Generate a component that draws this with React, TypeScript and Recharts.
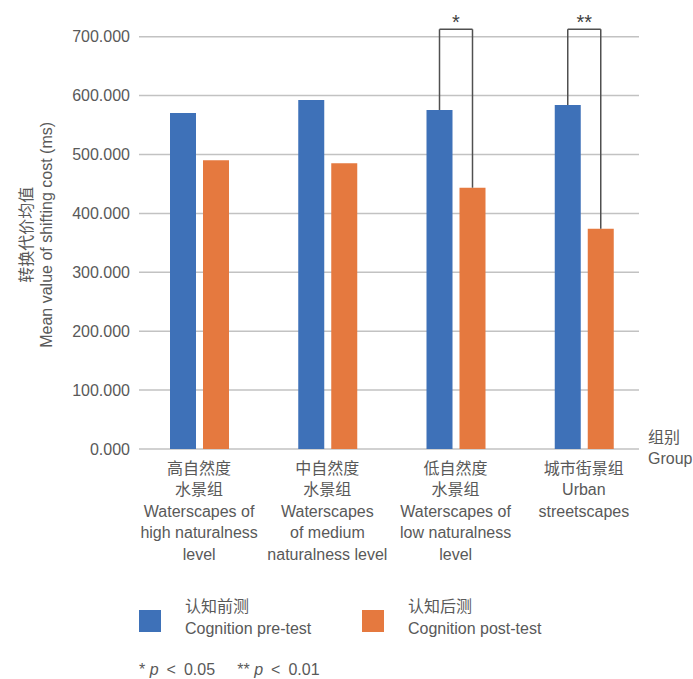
import React from 'react'
import { BarChart, Bar, XAxis, YAxis, CartesianGrid, Legend, LabelList } from 'recharts'

const categories = ['高自然度水景组', '中自然度水景组', '低自然度水景组', '城市街景组']
const categoryLines = [
  ['高自然度', '水景组', 'Waterscapes of', 'high naturalness', 'level'],
  ['中自然度', '水景组', 'Waterscapes', 'of medium', 'naturalness level'],
  ['低自然度', '水景组', 'Waterscapes of', 'low naturalness', 'level'],
  ['城市街景组', 'Urban', 'streetscapes'],
]
const preTest = [570.5, 592.7, 575.6, 584.0]
const postTest = [490.3, 485.1, 443.6, 374.0]
const significance = ['', '', '*', '**']
const bracketLevel = 712.6
const yTicks = [0, 100, 200, 300, 400, 500, 600, 700]
const seriesKeys = ['pre', 'post']
const seriesZh = ['认知前测', '认知后测']
const seriesEn = ['Cognition pre-test', 'Cognition post-test']

const data = categories.map((name, i) => ({
  name,
  pre: preTest[i],
  post: postTest[i],
  sig: significance[i],
}))

const FONT = '"Liberation Sans", Arial, "Noto Sans CJK SC", sans-serif'
const TEXT = '#595959'
const BLUE = '#3e71b8'
const ORANGE = '#e5793f'
const BAR_SIZE = 26
const BAR_GAP = 7

const bracketTop = (y: number, height: number, value: number) =>
  y + height - (bracketLevel * height) / value

const PreBracket = (props: any) => {
  const vb = props.viewBox || props
  const { x, y, width, height } = vb
  const i = props.index
  if (!significance[i]) return null
  const cx = x + width / 2
  const top = bracketTop(y, height, preTest[i])
  return <line x1={cx} x2={cx} y1={y} y2={top} stroke="#505050" strokeWidth={1.5} />
}

const PostBracket = (props: any) => {
  const vb = props.viewBox || props
  const { x, y, width, height } = vb
  const i = props.index
  if (!significance[i]) return null
  const cx = x + width / 2
  const left = cx - width - BAR_GAP
  const top = bracketTop(y, height, postTest[i])
  return (
    <g>
      <line x1={cx} x2={cx} y1={y} y2={top} stroke="#505050" strokeWidth={1.5} />
      <line x1={left} x2={cx} y1={top} y2={top} stroke="#505050" strokeWidth={1.5} />
      <text x={(left + cx) / 2} y={top} textAnchor="middle" fontSize={20} fill="#404040" fontFamily={FONT}>
        {significance[i]}
      </text>
    </g>
  )
}

const CategoryTick = (props: any) => {
  const { x, y, payload } = props
  const idx = payload.index ?? categories.indexOf(payload.value)
  const lines = categoryLines[idx] || []
  return (
    <text x={x} y={y} textAnchor="middle" fill={TEXT} fontSize={16} fontFamily={FONT}>
      {lines.map((l, k) => (
        <tspan key={k} x={x} dy={k === 0 ? 0 : 21.4}>
          {l}
        </tspan>
      ))}
    </text>
  )
}

const YLabel = (props: any) => {
  const vb = props.viewBox
  const cy = vb.y + vb.height / 2 - 8
  return (
    <g fill={TEXT} fontSize={16} fontFamily={FONT}>
      <text x={27} y={cy} textAnchor="middle" dominantBaseline="central" transform={`rotate(-90 27 ${cy})`}>
        转换代价均值
      </text>
      <text x={47} y={cy} textAnchor="middle" dominantBaseline="central" transform={`rotate(-90 47 ${cy})`}>
        Mean value of shifting cost (ms)
      </text>
    </g>
  )
}

const XLabel = (props: any) => {
  const vb = props.viewBox
  const lx = vb.x + vb.width
  return (
    <g fill={TEXT} fontSize={16} fontFamily={FONT}>
      <text x={lx} y={vb.y - 6}>组别</text>
      <text x={lx} y={vb.y + 15}>Group</text>
    </g>
  )
}

const renderLegend = (props: any) => {
  const payload = props.payload || []
  return (
    <div style={{ display: 'flex', fontFamily: FONT, color: TEXT, fontSize: 16 }}>
      {seriesKeys.map((key, i) => {
        const entry = payload.find((p: any) => p.dataKey === key) || {}
        return (
          <div key={key} style={{ display: 'flex', alignItems: 'center', width: 223 }}>
            <div style={{ width: 22, height: 22, background: entry.color, marginRight: 24, marginTop: 6 }} />
            <div style={{ lineHeight: '22px' }}>
              <div>{seriesZh[i]}</div>
              <div>{seriesEn[i]}</div>
            </div>
          </div>
        )
      })}
    </div>
  )
}

export default function App() {
  return (
    <div style={{ position: 'absolute', left: 0, top: 0, width: 693, height: 679, background: '#fff' }}>
      <BarChart
        width={693}
        height={679}
        data={data}
        margin={{ top: 36.7, right: 45, left: 0, bottom: 0 }}
        barSize={BAR_SIZE}
        barGap={BAR_GAP}
      >
        <CartesianGrid
          vertical={false}
          horizontal={(p: any) => (
            <line
              key={`h-${p.index}-${p.y1}`}
              x1={p.x1 + 4}
              x2={p.x2 - 9}
              y1={p.y1}
              y2={p.y2}
              stroke="#c2c2c2"
              strokeWidth={1.5}
            />
          )}
        />
        <XAxis
          dataKey="name"
          height={230}
          axisLine={false}
          tickLine={false}
          tickSize={0}
          tickMargin={25}
          interval={0}
          tick={<CategoryTick />}
          label={{ content: <XLabel /> } as any}
        />
        <YAxis
          width={135}
          domain={[0, 700]}
          ticks={yTicks}
          tickFormatter={(v: number) => v.toFixed(3)}
          axisLine={false}
          tickLine={false}
          tickSize={0}
          tickMargin={5}
          tick={{ fill: TEXT, fontSize: 16, fontFamily: FONT }}
          label={{ content: <YLabel /> } as any}
        />
        <Legend
          layout="horizontal"
          verticalAlign="middle"
          align="center"
          content={renderLegend}
          wrapperStyle={{ position: 'absolute', left: 139, top: 596, width: 500, height: 50 }}
        />
        <Bar dataKey="pre" name={seriesEn[0]} fill={BLUE} isAnimationActive={false}>
          <LabelList dataKey="pre" content={<PreBracket />} />
        </Bar>
        <Bar dataKey="post" name={seriesEn[1]} fill={ORANGE} isAnimationActive={false}>
          <LabelList dataKey="post" content={<PostBracket />} />
        </Bar>
      </BarChart>
      <div
        style={{
          position: 'absolute',
          left: 139,
          top: 661,
          fontFamily: FONT,
          fontSize: 16,
          color: TEXT,
          whiteSpace: 'pre',
        }}
      >
        * <i>p</i>{'\u2002<\u2002'}0.05{'     '}** <i>p</i>{'\u2002<\u2002'}0.01
      </div>
    </div>
  )
}
